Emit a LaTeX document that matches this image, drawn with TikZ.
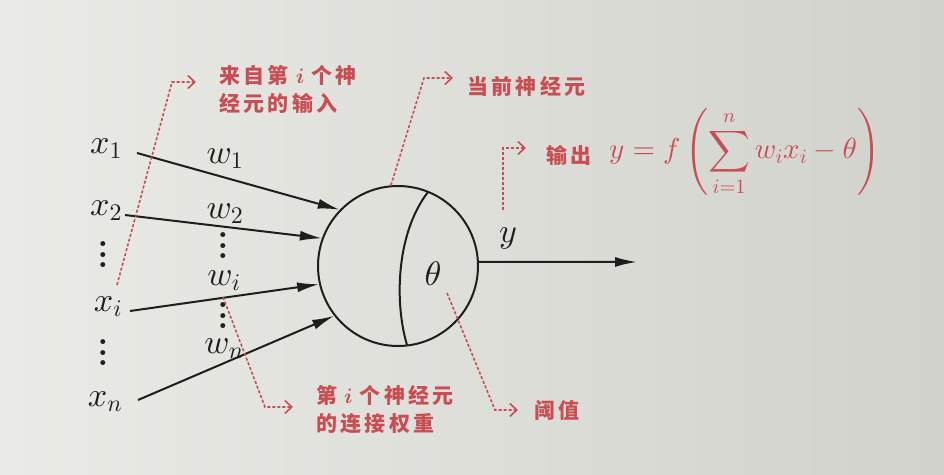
\documentclass[tikz,border=0pt]{standalone}
\usepackage{fontspec}
\usepackage{amsmath}
\DeclareFontShape{OML}{cmm}{m}{it}{<->cmmi10}{}
\DeclareFontShape{OML}{cmm}{b}{it}{<->cmmib10}{}
\DeclareFontShape{OMS}{cmsy}{m}{n}{<->cmsy10}{}
\DeclareFontShape{OMX}{cmex}{m}{n}{<->cmex10}{}
\DeclareFontShape{OT1}{cmr}{m}{n}{<->cmr10}{}
\DeclareFontShape{OT1}{cmr}{bx}{n}{<->cmbx10}{}
\usetikzlibrary{arrows.meta}
\newfontfamily\cjk[LetterSpace=16]{Noto Sans CJK SC}
\definecolor{paperL}{RGB}{234,234,230}
\definecolor{paperR}{RGB}{210,210,205}
\definecolor{ink}{RGB}{30,30,30}
\definecolor{note}{RGB}{200,78,84}
\newcommand\myvd{\vbox{\baselineskip=10.5pt\lineskiplimit=-10pt\hbox{.}\hbox{.}\hbox{.}}}
\tikzset{
  lab/.style={inner sep=0pt, text=ink, font=\fontsize{34}{36}\selectfont},
  inarrow/.style={draw=ink, line width=2pt, -{Latex[length=22pt,width=10pt]}},
  leader/.style={draw=note, line width=1.6pt, dash pattern=on 3pt off 2pt, -{Straight Barb[length=7pt,width=13pt]}},
  notetext/.style={inner sep=0pt, anchor=west, text=note, font=\fontsize{21}{28}\selectfont\cjk\bfseries, align=left},
  dotsv/.style={inner sep=0pt, text=ink, font=\fontsize{34}{34}\selectfont\bfseries}
}
\begin{document}
\begin{tikzpicture}[x=1pt,y=-1pt]
\shade[left color=paperL, right color=paperR] (0,0) rectangle (944,474);
\useasboundingbox (0,0) rectangle (944,474);

% neuron
\node[circle, draw=ink, line width=2pt, minimum size=160pt, inner sep=0pt] (neuron) at (398,266) {};
\coordinate (arcT) at (428,192);
\coordinate (arcB) at (407,345);
\draw[ink, line width=2pt] (arcT) .. controls (395,235) and (395,305) .. (arcB);
\node[lab] (theta) at (433,274) {$\theta$};

% inputs
\node[lab] (x1) at (106,149) {$x_1$};
\node[lab] (x2) at (106,211) {$x_2$};
\node[dotsv] (xd1) at (103,255) {\myvd};
\node[lab] (xi) at (108,307) {$x_i$};
\node[dotsv] (xd2) at (103,353) {\myvd};
\node[lab] (xn) at (105,402) {$x_n$};

\coordinate (s1) at (137,153);
\coordinate (s2) at (125,215);
\coordinate (si) at (130,311);
\coordinate (sn) at (138,400);
\draw[inarrow] (s1) -- (neuron.136);
\draw[inarrow] (s2) -- (neuron.160);
\draw[inarrow] (si) -- (neuron.193);
\draw[inarrow] (sn) -- (neuron.218);

% weights
\node[lab] (w1) at (225,159) {$w_1$};
\node[lab] (w2) at (225,214) {$w_2$};
\node[dotsv] (wd1) at (223,246) {\myvd};
\node[lab] (wi) at (224,281) {$w_i$};
\node[dotsv] (wd2) at (223,316) {\myvd};
\node[lab] (wn) at (224,349) {$w_n$};

% output
\coordinate (yend) at (637,262);
\draw[inarrow] (neuron.3) -- (yend);
\node[lab] (y) at (508,238) {$y$};

% leaders
\coordinate (l1a) at (117,285);
\coordinate (l1b) at (172,82);
\coordinate (l1c) at (196,82);
\draw[leader] (l1a) -- (l1b) -- (l1c);
\node[notetext] (t1) at (219,89) {来自第\hspace{7pt}$\boldsymbol{i}$\hspace{7pt}个神\\经元的输入};

\coordinate (l2b) at (424,78);
\coordinate (l2c) at (453,78);
\draw[leader] (neuron.95) -- (l2b) -- (l2c);
\node[notetext] (t2) at (467,86) {当前神经元};

\coordinate (l3a) at (503,210);
\coordinate (l3b) at (503,148);
\coordinate (l3c) at (526,148);
\draw[leader] (l3a) -- (l3b) -- (l3c);
\node[notetext] (t3) at (546,155) {输出};
\node[inner sep=0pt, anchor=west, text=note, font=\fontsize{29}{32}\selectfont] (formula) at (609,152)
  {$y=f\left(\displaystyle\sum_{i=1}^{n} w_i x_i-\theta\right)$};

\coordinate (l4a) at (223,297);
\coordinate (l4b) at (265,407);
\coordinate (l4c) at (293,407);
\draw[leader] (l4a) -- (l4b) -- (l4c);
\node[notetext] (t4) at (316,410) {第\hspace{7pt}$\boldsymbol{i}$\hspace{7pt}个神经元\\的连接权重};

\coordinate (l5a) at (447,293);
\coordinate (l5b) at (495,410);
\coordinate (l5c) at (518,410);
\draw[leader] (l5a) -- (l5b) -- (l5c);
\node[notetext] (t5) at (534,410) {阈值};
\end{tikzpicture}
\end{document}
